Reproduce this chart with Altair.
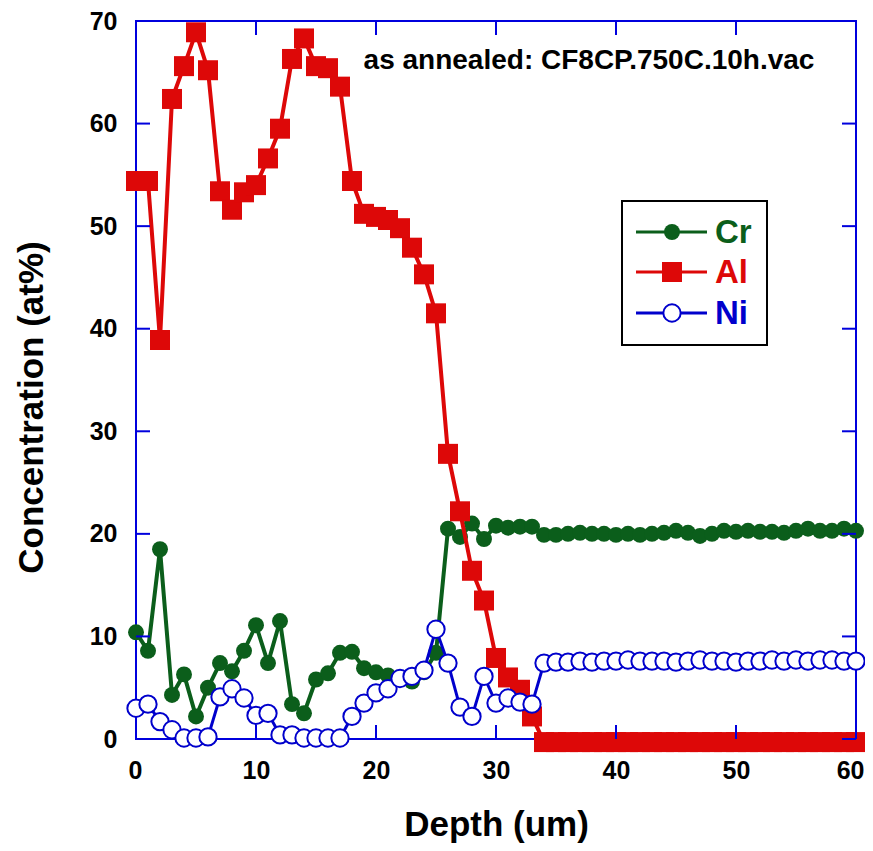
import altair as alt
import pandas as pd

# ---------------- data ----------------
depth = list(range(61))
cr = [10.4, 8.6, 18.5, 4.3, 6.3, 2.2, 5.0, 7.4, 6.6, 8.6,
      11.1, 7.4, 11.5, 3.4, 2.5, 5.8, 6.4, 8.4, 8.5, 6.9,
      6.5, 6.2, 5.9, 5.6, 6.5, 8.4, 20.5, 19.7, 21.0, 19.5,
      20.8, 20.6, 20.7, 20.7, 19.9, 19.9, 20.0, 20.1, 20.0, 20.0,
      19.9, 20.0, 19.9, 20.0, 20.1, 20.3, 20.1, 19.8, 20.0, 20.3,
      20.2, 20.3, 20.2, 20.2, 20.1, 20.3, 20.5, 20.3, 20.3, 20.5,
      20.3]
al = [54.4, 54.4, 38.9, 62.4, 65.6, 68.9, 65.2, 53.4, 51.6, 53.3,
      54.0, 56.6, 59.5, 66.3, 68.3, 65.6, 65.4, 63.6, 54.4, 51.2,
      50.9, 50.6, 49.8, 47.9, 45.3, 41.5, 27.8, 22.2, 16.4, 13.5,
      7.9, 6.0, 4.8, 2.2, -0.3, -0.3, -0.3, -0.3, -0.3, -0.3,
      -0.3, -0.3, -0.3, -0.3, -0.3, -0.3, -0.3, -0.3, -0.3, -0.3,
      -0.3, -0.3, -0.3, -0.3, -0.3, -0.3, -0.3, -0.3, -0.3, -0.3,
      -0.3]
ni = [3.0, 3.4, 1.7, 0.9, 0.1, 0.1, 0.2, 4.1, 4.9, 4.0,
      2.3, 2.5, 0.4, 0.4, 0.1, 0.1, 0.1, 0.1, 2.2, 3.5,
      4.5, 4.9, 5.9, 6.1, 6.7, 10.7, 7.4, 3.1, 2.2, 6.1,
      3.5, 4.0, 3.6, 3.4, 7.4, 7.5, 7.5, 7.6, 7.5, 7.6,
      7.6, 7.7, 7.6, 7.6, 7.6, 7.5, 7.6, 7.7, 7.6, 7.6,
      7.5, 7.6, 7.6, 7.7, 7.6, 7.7, 7.6, 7.7, 7.7, 7.6,
      7.6]
elements = ["Cr", "Al", "Ni"]
x_ticks = [0, 10, 20, 30, 40, 50, 60]
y_ticks = [0, 10, 20, 30, 40, 50, 60, 70]
annotation = ["as annealed: CF8CP.750C.10h.vac"]

# ---------------- styles ----------------
GREEN = "#0B5E1B"
RED = "#DD0808"
BLUE = "#0000CC"
AXIS_BLUE = "#0000DD"
FONT = "Liberation Sans"
W, H = 720, 718

rows = []
for name, vals in zip(elements, [cr, al, ni]):
    for d, v in zip(depth, vals):
        rows.append({"depth": d, "element": name, "value": v})
df = pd.DataFrame(rows)

xs = alt.Scale(domain=[0, 60], nice=False, zero=False)
ys = alt.Scale(domain=[0, 70], nice=False, zero=False)

AX = alt.Axis(values=x_ticks, domain=False, ticks=False, tickSize=0, grid=False,
              labelFont=FONT, labelFontSize=25, labelFontWeight="bold",
              labelColor="black", labelPadding=19,
              labelFlush=True, labelFlushOffset=8,
              titleFont=FONT, titleFontSize=35, titleFontWeight="bold",
              titleColor="black", titleY=85, titleBaseline="middle")
AY = alt.Axis(values=y_ticks, domain=False, ticks=False, tickSize=0, grid=False,
              labelFont=FONT, labelFontSize=25, labelFontWeight="bold",
              labelColor="black", labelPadding=19, labelFlush=False,
              titleFont=FONT, titleFontSize=35, titleFontWeight="bold",
              titleColor="black", titleX=-105, titleY=386,
              titleAngle=270, titleAlign="center", titleBaseline="middle")
XT = "Depth (um)"
YT = "Concentration (at%)"

X = alt.X("depth:Q", scale=xs, title=XT, axis=AX)
Y = alt.Y("value:Q", scale=ys, title=YT, axis=AY)

base = alt.Chart(df)
layers = []

# series
def series(name, color, line_w, point_mark):
    sub = base.transform_filter(alt.datum.element == name)
    line = sub.mark_line(color=color, strokeWidth=line_w).encode(x=X, y=Y)
    pts = sub.mark_point(**point_mark).encode(x=X, y=Y)
    return [line, pts]

layers += series("Cr", GREEN, 4, dict(shape="circle", filled=True, color=GREEN, size=255, opacity=1))
layers += series("Al", RED, 4, dict(shape="square", filled=True, color=RED, size=400, opacity=1))
layers += series("Ni", BLUE, 3, dict(shape="circle", filled=True, fill="white", stroke=BLUE,
                                     strokeWidth=2, size=300, opacity=1, fillOpacity=1))

# inward ticks on all four sides
xt = alt.Chart(pd.DataFrame({"t": x_ticks}))
yt = alt.Chart(pd.DataFrame({"t": y_ticks}))
tick_style = dict(color=AXIS_BLUE, strokeWidth=2)
layers.append(xt.mark_rule(**tick_style).encode(
    x=alt.X("t:Q", scale=xs, title=XT, axis=AX), y=alt.value(H), y2=alt.value(H - 14)))
layers.append(xt.mark_rule(**tick_style).encode(
    x=alt.X("t:Q", scale=xs, title=XT, axis=AX), y=alt.value(0), y2=alt.value(14)))
layers.append(yt.mark_rule(**tick_style).encode(
    y=alt.Y("t:Q", scale=ys, title=YT, axis=AY), x=alt.value(0), x2=alt.value(14)))
layers.append(yt.mark_rule(**tick_style).encode(
    y=alt.Y("t:Q", scale=ys, title=YT, axis=AY), x=alt.value(W), x2=alt.value(W - 14)))

# legend (manual)
leg = alt.Chart(pd.DataFrame({"element": elements}))
layers.append(leg.mark_rect(fill="white", stroke="black", strokeWidth=2).encode(
    x=alt.value(486), x2=alt.value(631), y=alt.value(180), y2=alt.value(324)))
leg_specs = [
    ("Cr", GREEN, dict(shape="circle", filled=True, color=GREEN, size=255, opacity=1)),
    ("Al", RED, dict(shape="square", filled=True, color=RED, size=400, opacity=1)),
    ("Ni", BLUE, dict(shape="circle", filled=True, fill="white", stroke=BLUE,
                      strokeWidth=2, size=300, opacity=1, fillOpacity=1)),
]
leg_y = [211, 251, 292]
for (name, color, pm), yy in zip(leg_specs, leg_y):
    one = leg.transform_filter(alt.datum.element == name)
    layers.append(one.mark_rule(color=color, strokeWidth=3).encode(
        x=alt.value(500), x2=alt.value(571), y=alt.value(yy)))
    layers.append(one.mark_point(**pm).encode(x=alt.value(536), y=alt.value(yy)))
    layers.append(one.mark_text(font=FONT, fontSize=33, fontWeight="bold", color=color,
                                align="left", baseline="middle").encode(
        x=alt.value(579), y=alt.value(yy + 1), text="element:N"))

# annotation
layers.append(alt.Chart(pd.DataFrame({"label": annotation})).mark_text(
    font=FONT, fontSize=28, fontWeight="bold", color="black",
    align="center", baseline="middle").encode(
    x=alt.value(453), y=alt.value(40), text="label:N"))

chart = alt.layer(*layers).properties(
    width=W, height=H,
    padding={"left": 128, "top": 13, "right": 9, "bottom": 104},
    autosize=alt.AutoSizeParams(type="none"),
    background="white",
).configure_view(stroke=AXIS_BLUE, strokeWidth=2)

chart.save("out.html", embed_options={"renderer": "svg", "actions": False})
